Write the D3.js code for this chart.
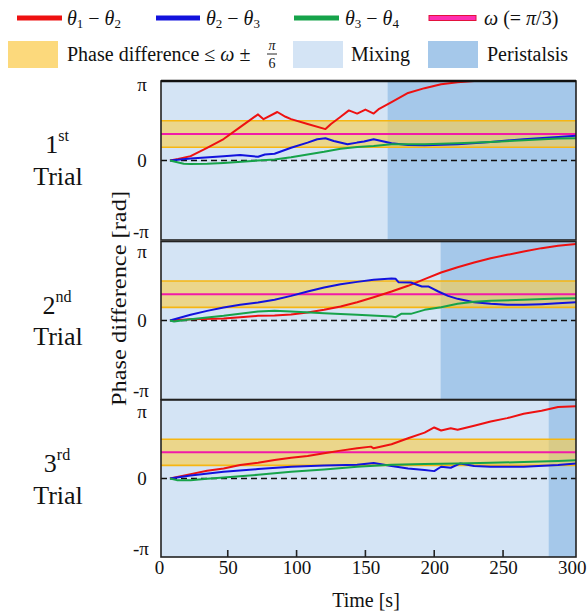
<!DOCTYPE html>
<html><head><meta charset="utf-8">
<script src="https://cdn.jsdelivr.net/npm/d3@7"></script>
<style>body{margin:0;background:#fff}svg{display:block}text{font-family:"Liberation Serif","Times New Roman",serif;fill:#111}</style>
</head><body><svg id="c" width="588" height="612"></svg>
<script>
// ---- data (values in units of π rad, time in s) ----
const trialNames = [["1","st"],["2","nd"],["3","rd"]];
const peristalsisStart = [166, 204.5, 283];
const xTicks = [0, 50, 100, 150, 200, 250, 300];

const t1Red = [[8,0],[14,0.02],[23,0.055],[35,0.16],[47,0.27],[59,0.42],[72,0.58],[76,0.52],[86,0.61],[92,0.55],[96,0.52],[108,0.46],[121,0.395],[125,0.46],[132,0.55],[138,0.63],[144,0.59],[150,0.64],[156,0.59],[160,0.65],[169,0.735],[181,0.85],[193,0.91],[205,0.96],[217,0.985],[229,1.0],[303,1.0]];
const t1Blue = [[8,0],[23,0.025],[47,0.055],[59,0.068],[72,0.047],[77,0.076],[84,0.085],[96,0.161],[108,0.225],[115,0.268],[121,0.28],[127,0.246],[137,0.204],[144,0.225],[149,0.238],[156,0.268],[169,0.217],[181,0.195],[193,0.191],[217,0.204],[241,0.234],[265,0.268],[290,0.297],[303,0.31]];
const t1Green = [[8,0],[18,-0.042],[23,-0.045],[35,-0.042],[47,-0.03],[72,0],[84,0.013],[96,0.042],[108,0.076],[120,0.11],[132,0.149],[144,0.17],[156,0.183],[169,0.204],[193,0.204],[217,0.216],[241,0.234],[265,0.255],[290,0.276],[303,0.28]];

const t2Red = [[8,0],[23,0.017],[47,0.025],[59,0.042],[72,0.059],[84,0.063],[96,0.076],[108,0.101],[120,0.135],[132,0.177],[144,0.232],[156,0.295],[169,0.367],[181,0.439],[193,0.523],[205,0.608],[217,0.675],[229,0.734],[241,0.789],[253,0.831],[265,0.873],[278,0.916],[290,0.945],[303,0.97]];
const t2Blue = [[8,0],[23,0.072],[35,0.122],[47,0.165],[59,0.198],[72,0.228],[84,0.262],[96,0.312],[108,0.367],[120,0.418],[132,0.46],[144,0.489],[156,0.515],[169,0.532],[172,0.527],[174,0.485],[183,0.481],[191,0.43],[196,0.43],[203,0.367],[210,0.312],[217,0.274],[229,0.232],[241,0.211],[253,0.198],[265,0.198],[278,0.207],[290,0.219],[303,0.232]];
const t2Green = [[8,0],[11,-0.013],[23,0.017],[47,0.059],[72,0.114],[84,0.122],[96,0.114],[120,0.093],[144,0.072],[169,0.051],[172,0.042],[176,0.084],[183,0.084],[193,0.135],[205,0.169],[217,0.211],[229,0.236],[241,0.249],[265,0.262],[290,0.278],[303,0.283]];

const t3Red = [[8,0],[23,0.056],[35,0.098],[47,0.128],[59,0.171],[72,0.201],[84,0.235],[96,0.265],[108,0.286],[120,0.321],[132,0.355],[144,0.385],[154,0.406],[156,0.385],[169,0.436],[181,0.513],[193,0.585],[200,0.65],[205,0.611],[212,0.641],[217,0.62],[229,0.671],[241,0.726],[253,0.769],[265,0.825],[278,0.863],[290,0.91],[303,0.919]];
const t3Blue = [[8,0],[23,0.038],[47,0.085],[72,0.12],[96,0.15],[120,0.167],[144,0.175],[156,0.197],[169,0.158],[181,0.128],[193,0.107],[200,0.094],[205,0.15],[212,0.137],[219,0.192],[229,0.158],[241,0.15],[265,0.15],[290,0.171],[303,0.192]];
const t3Green = [[8,0],[13,-0.021],[23,-0.021],[35,-0.004],[47,0.013],[72,0.047],[96,0.085],[120,0.115],[144,0.15],[169,0.175],[193,0.184],[217,0.192],[241,0.201],[265,0.209],[290,0.222],[303,0.231]];

const omega = 1/3;       // ω = π/3
const tol = 1/6;         // ± π/6

const trials = [[t1Red,t1Blue,t1Green],[t2Red,t2Blue,t2Green],[t3Red,t3Blue,t3Green]];
const seriesColors = ["#ee1111","#1212dd","#16a34a"];

// ---- drawing ----
const svg = d3.select("#c");
const PI = Math.PI;
const x = d3.scaleLinear().domain([1.5,303]).range([161,576]);
const [xL, xR] = x.range();
const panelTop = [81, 241.5, 400], panelBot = [240, 399.5, 557];
const mixCol = "#d4e4f5", periCol = "#a5c8ea";

trials.forEach((series,i)=>{
  const y = d3.scaleLinear().domain([-PI,PI]).range([panelBot[i], panelTop[i]]);
  const g = svg.append("g");
  const cid = "clip"+i;
  svg.append("clipPath").attr("id",cid).append("rect")
    .attr("x",xL).attr("y",panelTop[i]).attr("width",xR-xL).attr("height",panelBot[i]-panelTop[i]);
  const inner = g.append("g").attr("clip-path",`url(#${cid})`);
  inner.append("rect").attr("x",xL).attr("y",y(PI)).attr("width",x(peristalsisStart[i])-xL).attr("height",y(-PI)-y(PI)).attr("fill",mixCol);
  inner.append("rect").attr("x",x(peristalsisStart[i])).attr("y",y(PI)).attr("width",xR-x(peristalsisStart[i])).attr("height",y(-PI)-y(PI)).attr("fill",periCol);
  inner.append("rect").attr("x",xL).attr("y",y((omega+tol)*PI)).attr("width",xR-xL)
    .attr("height",y((omega-tol)*PI)-y((omega+tol)*PI)).attr("fill","#f9cd4a").attr("fill-opacity",0.62);
  [omega+tol, omega-tol].forEach(v=>{
    inner.append("line").attr("x1",xL).attr("x2",xR).attr("y1",y(v*PI)).attr("y2",y(v*PI))
      .attr("stroke","#f6b612").attr("stroke-width",1.6);
  });
  inner.append("line").attr("x1",xL).attr("x2",xR).attr("y1",y(omega*PI)).attr("y2",y(omega*PI))
    .attr("stroke","#f01aa8").attr("stroke-width",2);
  inner.append("line").attr("x1",xL).attr("x2",xR).attr("y1",y(0)).attr("y2",y(0))
    .attr("stroke","#111").attr("stroke-width",1.3).attr("stroke-dasharray","6,4");
  const line = d3.line().x(d=>x(d[0])).y(d=>y(d[1]*PI));
  series.forEach((s,k)=>{
    inner.append("path").datum(s).attr("d",line).attr("fill","none")
      .attr("stroke",seriesColors[k]).attr("stroke-width",2).attr("stroke-linejoin","round");
  });
  g.append("rect").attr("x",xL).attr("y",panelTop[i]).attr("width",xR-xL).attr("height",panelBot[i]-panelTop[i])
    .attr("fill","none").attr("stroke","#222").attr("stroke-width",1.6);
  if(i===0) g.append("line").attr("x1",xL).attr("x2",xR).attr("y1",panelTop[0]).attr("y2",panelTop[0]).attr("stroke","#111").attr("stroke-width",2.5);
  // y tick labels
  const piOff = [3,10,11][i];
  const yl = g.append("g").attr("font-size",19).attr("text-anchor","middle");
  yl.append("text").attr("x",142).attr("y",y(PI)+piOff).attr("dominant-baseline","central").text("π");
  yl.append("text").attr("x",142).attr("y",y(0)).attr("dominant-baseline","central").text("0");
  yl.append("text").attr("x",141).attr("y",y(-PI)-9).attr("dominant-baseline","central").text("-π");
  // trial label
  const tl = g.append("text").attr("x",57).attr("y",panelTop[i]+63).attr("text-anchor","middle")
    .attr("dominant-baseline","central").attr("font-size",26);
  tl.append("tspan").text(trialNames[i][0]);
  tl.append("tspan").attr("font-size",16).attr("dy",-9).text(trialNames[i][1]);
  g.append("text").attr("x",58).attr("y",panelTop[i]+95).attr("text-anchor","middle")
    .attr("dominant-baseline","central").attr("font-size",26).text("Trial");
});

// x axis on bottom panel
const xAxis = d3.axisBottom(x).tickValues(xTicks).tickSize(0).tickFormat(d3.format("d"));
const ax = svg.append("g").attr("transform",`translate(0,${panelBot[2]})`).call(xAxis);
ax.select(".domain").remove();
ax.selectAll("text").attr("font-size",19).attr("dy",0).attr("y",10).attr("dominant-baseline","central")
  .style("font-family",'"Liberation Serif","Times New Roman",serif').attr("fill","#111");
xTicks.filter(v=>v>0&&v<300).forEach(v=>{
  svg.append("line").attr("x1",x(v)).attr("x2",x(v)).attr("y1",panelBot[2]).attr("y2",panelBot[2]-7)
    .attr("stroke","#222").attr("stroke-width",1.6);
});
svg.append("text").attr("x",366).attr("y",600).attr("text-anchor","middle").attr("dominant-baseline","central")
  .attr("font-size",20).text("Time [s]");
svg.append("text").attr("transform","translate(119,298.5) rotate(-90)").attr("text-anchor","middle")
  .attr("dominant-baseline","central").attr("font-size",21).attr("textLength",215).attr("lengthAdjust","spacingAndGlyphs")
  .text("Phase difference [rad]");

// ---- legend ----
const lg = svg.append("g").attr("font-size",20);
const row1 = [
  {x0:17,x1:62,tx:67,col:"#ee1111",a:"1",b:"2"},
  {x0:156,x1:200,tx:206,col:"#1212dd",a:"2",b:"3"},
  {x0:294,x1:339,tx:345,col:"#16a34a",a:"3",b:"4"}
];
const ry = 18;
row1.forEach(r=>{
  lg.append("line").attr("x1",r.x0).attr("x2",r.x1).attr("y1",ry).attr("y2",ry).attr("stroke",r.col).attr("stroke-width",5);
  const t = lg.append("text").attr("x",r.tx).attr("y",ry).attr("dominant-baseline","central");
  t.append("tspan").attr("font-style","italic").text("θ");
  t.append("tspan").attr("font-size",13).attr("dy",5).text(r.a);
  t.append("tspan").attr("dy",-5).text(" − ");
  t.append("tspan").attr("font-style","italic").text("θ");
  t.append("tspan").attr("font-size",13).attr("dy",5).text(r.b);
});
lg.append("rect").attr("x",429).attr("y",ry-2.5).attr("width",47).attr("height",5).attr("fill","#ff2fb0").attr("stroke","#e3123c").attr("stroke-width",1);
const wt = lg.append("text").attr("x",484).attr("y",ry).attr("dominant-baseline","central");
wt.append("tspan").attr("font-style","italic").text("ω");
wt.append("tspan").text(" (= ");
wt.append("tspan").attr("font-style","italic").text("π");
wt.append("tspan").text("/3)");

const r2y = 54;
lg.append("rect").attr("x",8).attr("y",41).attr("width",50).attr("height",27).attr("fill","#fcd97c");
const pt = lg.append("text").attr("x",67).attr("y",r2y).attr("dominant-baseline","central");
pt.append("tspan").text("Phase difference ≤ ");
pt.append("tspan").attr("font-style","italic").text("ω");
pt.append("tspan").text(" ± ");
lg.append("text").attr("x",272).attr("y",r2y-9).attr("text-anchor","middle").attr("dominant-baseline","central").attr("font-size",14).attr("font-style","italic").text("π");
lg.append("line").attr("x1",267).attr("x2",277).attr("y1",r2y).attr("y2",r2y).attr("stroke","#111").attr("stroke-width",0.9);
lg.append("text").attr("x",272).attr("y",r2y+9).attr("text-anchor","middle").attr("dominant-baseline","central").attr("font-size",14).text("6");
lg.append("rect").attr("x",293).attr("y",41).attr("width",50).attr("height",27).attr("fill",mixCol);
lg.append("text").attr("x",351).attr("y",r2y).attr("dominant-baseline","central").text("Mixing");
lg.append("rect").attr("x",428).attr("y",41).attr("width",50).attr("height",27).attr("fill",periCol);
lg.append("text").attr("x",487).attr("y",r2y).attr("dominant-baseline","central").text("Peristalsis");
</script></body></html>
